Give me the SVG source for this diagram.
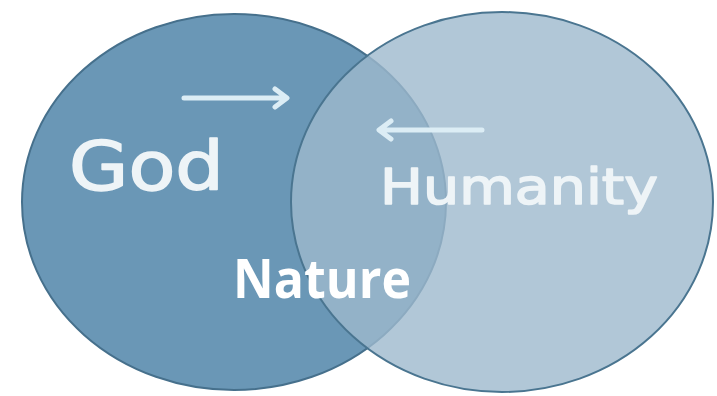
<svg xmlns="http://www.w3.org/2000/svg" width="717" height="396" viewBox="0 0 717 396">
<defs>
<style>
.lbl{font-family:"DejaVu Sans","Liberation Sans",Arial,sans-serif;fill:#eef4f7;stroke:#eef4f7;stroke-width:1.6;stroke-linejoin:round;}
.arr{stroke:#dcedf5;stroke-width:5;fill:none;stroke-linecap:round;stroke-linejoin:round;}
</style>
</defs>
<rect width="717" height="396" fill="#ffffff"/>
<g id="god">
<ellipse cx="234" cy="202" rx="212" ry="188" fill="#6a97b6" stroke="#46708c" stroke-width="2"/>
<text class="lbl" x="69" y="190" font-size="68" textLength="155" lengthAdjust="spacingAndGlyphs">God</text>
</g>
<g id="humanity">
<ellipse cx="502" cy="202" rx="211" ry="190" fill="#9db9cd" fill-opacity="0.8" stroke="#4a7590" stroke-width="2"/>
<text class="lbl" x="380" y="204" font-size="50" textLength="278" lengthAdjust="spacingAndGlyphs">Humanity</text>
</g>
<g id="connectors">
<path class="arr" d="M184 98 H286 M275 89 L287 98 L275 107"/>
<path class="arr" d="M482 130 H380 M391 121 L379 130 L391 139"/>
</g>
<g id="nature">
<text x="233" y="298" font-family="'Open Sans','Noto Sans',sans-serif" font-weight="bold" font-size="53" fill="#ffffff" textLength="178" lengthAdjust="spacingAndGlyphs">Nature</text>
</g>
</svg>
